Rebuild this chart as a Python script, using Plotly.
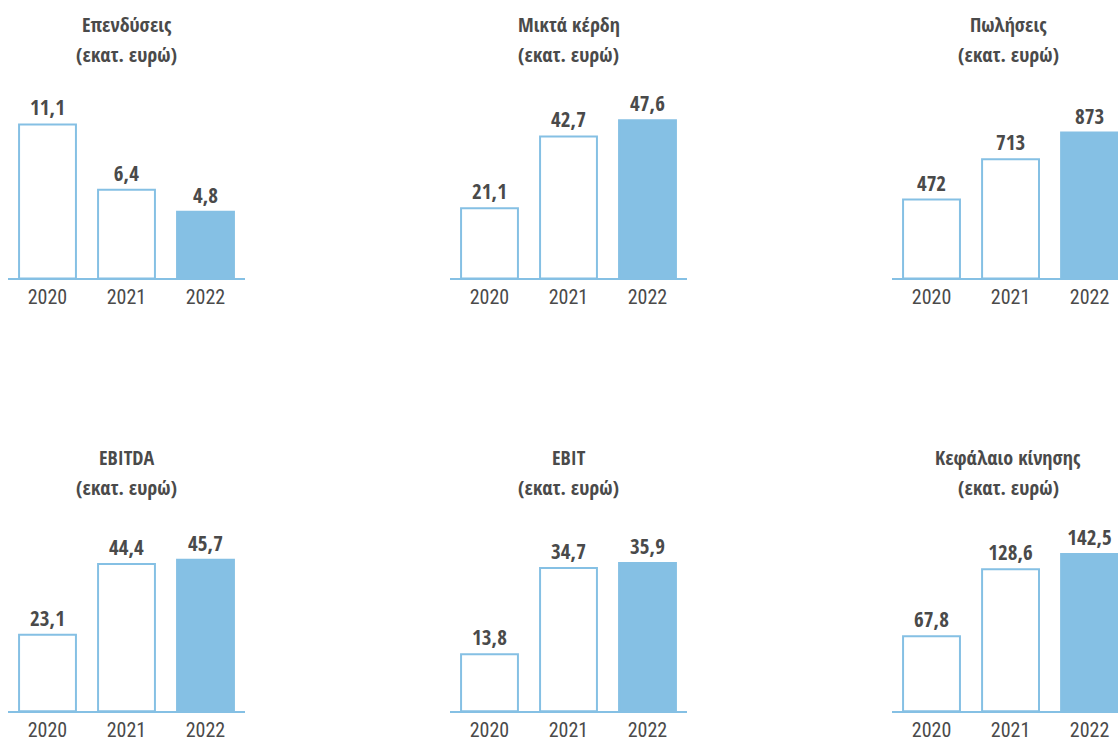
import plotly.graph_objects as go

# ---- data ----
titles = ["Επενδύσεις", "Μικτά κέρδη", "Πωλήσεις", "EBITDA", "EBIT", "Κεφάλαιο κίνησης"]
subtitle = "(εκατ. ευρώ)"
years = ["2020", "2021", "2022"]
investments = [11.1, 6.4, 4.8]
gross_profit = [21.1, 42.7, 47.6]
sales = [472, 713, 873]
ebitda = [23.1, 44.4, 45.7]
ebit = [13.8, 34.7, 35.9]
working_capital = [67.8, 128.6, 142.5]
decimals = [1, 1, 0, 1, 1, 1]

series = [investments, gross_profit, sales, ebitda, ebit, working_capital]

# ---- layout constants ----
W, H = 1118, 742
BLUE = "#85c0e4"
DARK = "#4a4a4a"
BOLD_FONT = "Open Sans Condensed, Roboto Condensed, sans-serif"
REG_FONT = "Roboto Condensed, sans-serif"

# x domains in px (left, right) and x-range upper bound per column
col_dom = [(8, 245), (450, 687), (892, 1118)]
col_xmax = [2.5, 2.5, 2.36]
# y domains (baseline px, top px)
row_dom = [(280, 80), (715, 515)]
y_tops = [14.33, 59.8, 1190, 60.06, 48.2, 180.3]

fig = go.Figure()
layout = dict(
    width=W, height=H,
    margin=dict(l=0, r=0, t=0, b=0),
    paper_bgcolor="white", plot_bgcolor="white",
    showlegend=False,
    font=dict(family=REG_FONT, color=DARK),
    annotations=[],
)


def fmt(v, d):
    return (f"{v:.{d}f}").replace(".", ",")


for i, vals in enumerate(series):
    r, c = divmod(i, 3)
    n = i + 1
    xa = "x" if n == 1 else f"x{n}"
    ya = "y" if n == 1 else f"y{n}"
    fig.add_trace(go.Bar(
        x=years, y=vals, xaxis=xa, yaxis=ya,
        width=0.72,
        marker=dict(color=["white", "white", BLUE], line=dict(color=BLUE, width=2)),
        text=[fmt(v, decimals[i]) for v in vals],
        textposition="outside",
        textfont=dict(family=BOLD_FONT, size=21, color=DARK, weight="bold"),
        cliponaxis=False,
        hoverinfo="skip",
    ))
    x0, x1 = col_dom[c]
    yb, yt = row_dom[r]
    layout[f"xaxis{'' if n == 1 else n}"] = dict(
        domain=[x0 / W, x1 / W], anchor=ya,
        range=[-0.5, col_xmax[c]], type="category",
        showline=True, linecolor=BLUE, linewidth=1.5,
        showgrid=False, zeroline=False, ticks="",
        tickfont=dict(family=REG_FONT, size=20, color=DARK),
        fixedrange=True,
    )
    layout[f"yaxis{'' if n == 1 else n}"] = dict(
        domain=[(H - yb) / H, (H - yt) / H], anchor=xa,
        range=[0, y_tops[i]], visible=False, fixedrange=True,
    )
    cx = (x0 + x1) / 2 / W
    if c == 2:
        cx = 1008 / W
    ty1 = 25 + r * 435
    ty2 = 55 + r * 435
    layout["annotations"].append(dict(
        text=f"<b>{titles[i]}</b>", x=cx, y=(H - ty1) / H, xref="paper", yref="paper",
        showarrow=False, xanchor="center", yanchor="middle",
        font=dict(family=BOLD_FONT, size=20, color=DARK),
    ))
    layout["annotations"].append(dict(
        text=f"<b>{subtitle}</b>", x=cx, y=(H - ty2) / H, xref="paper", yref="paper",
        showarrow=False, xanchor="center", yanchor="middle",
        font=dict(family=BOLD_FONT, size=20, color=DARK),
    ))

fig.update_layout(**layout)
fig.write_html("out.html", config={"displayModeBar": False},
               post_script="document.body.style.margin='0';")
